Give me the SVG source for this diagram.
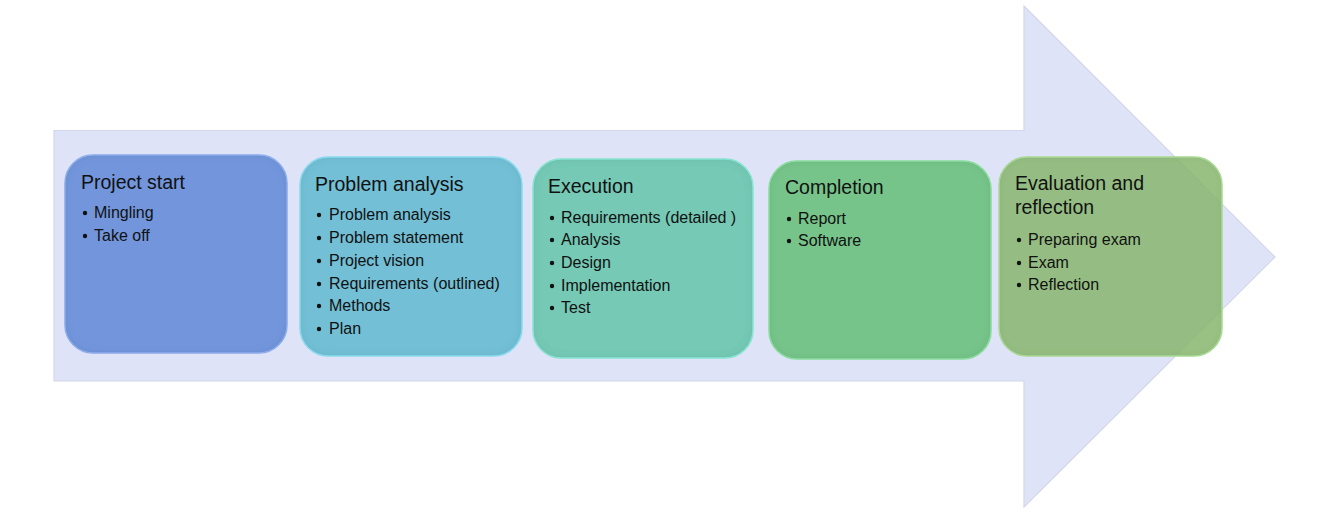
<svg xmlns="http://www.w3.org/2000/svg" width="1323" height="516" viewBox="0 0 1323 516">
<defs>
<filter id="bevel" x="-5%" y="-5%" width="110%" height="110%">
<feGaussianBlur in="SourceAlpha" stdDeviation="4" result="b"/>
<feComposite in="SourceAlpha" in2="b" operator="out" result="edge"/>
<feFlood flood-color="#000" flood-opacity="0.18"/>
<feComposite in2="edge" operator="in" result="shadow"/>
<feMerge><feMergeNode in="SourceGraphic"/><feMergeNode in="shadow"/></feMerge>
</filter>
<style>
.box{stroke-width:1.5;filter:url(#bevel)}
.title{font-family:"Liberation Sans",Arial,sans-serif;font-size:19.5px;fill:#111}
.item{font-family:"Liberation Sans",Arial,sans-serif;font-size:16px;fill:#111}
.dot{fill:#111}
</style>
</defs>
<rect width="1323" height="516" fill="#ffffff"/>
<g id="arrow">
<path d="M54,130.5 H1024 V6 L1275,257 L1024,507 V381 H54 Z" fill="#dfe3f7" stroke="#d3d7ea" stroke-width="1.2"/>
</g>
<g id="connectors"></g>
<g id="node-project-start">
<rect class="box" x="65" y="155" width="222" height="198" rx="28" fill="#7295dc" stroke="#93b3f4"/>
<text class="title" x="81" y="189">Project start</text>
<circle class="dot" cx="85" cy="213" r="2.2"/><text class="item" x="94" y="218">Mingling</text>
<circle class="dot" cx="85" cy="236" r="2.2"/><text class="item" x="94" y="241">Take off</text>
</g>
<g id="node-problem-analysis">
<rect class="box" x="300" y="157" width="222" height="199" rx="28" fill="#72bfd6" stroke="#8ee3f6"/>
<text class="title" x="315" y="191">Problem analysis</text>
<circle class="dot" cx="319" cy="215" r="2.2"/><text class="item" x="329" y="220">Problem analysis</text>
<circle class="dot" cx="319" cy="238" r="2.2"/><text class="item" x="329" y="243">Problem statement</text>
<circle class="dot" cx="319" cy="261" r="2.2"/><text class="item" x="329" y="266">Project vision</text>
<circle class="dot" cx="319" cy="284" r="2.2"/><text class="item" x="329" y="289">Requirements (outlined)</text>
<circle class="dot" cx="319" cy="306" r="2.2"/><text class="item" x="329" y="311">Methods</text>
<circle class="dot" cx="319" cy="329" r="2.2"/><text class="item" x="329" y="334">Plan</text>
</g>
<g id="node-execution">
<rect class="box" x="533" y="159" width="220" height="199" rx="28" fill="#74c9b5" stroke="#8ceed9"/>
<text class="title" x="548" y="193">Execution</text>
<circle class="dot" cx="552" cy="218" r="2.2"/><text class="item" x="561" y="223">Requirements (detailed )</text>
<circle class="dot" cx="552" cy="240" r="2.2"/><text class="item" x="561" y="245">Analysis</text>
<circle class="dot" cx="552" cy="263" r="2.2"/><text class="item" x="561" y="268">Design</text>
<circle class="dot" cx="552" cy="286" r="2.2"/><text class="item" x="561" y="291">Implementation</text>
<circle class="dot" cx="552" cy="308" r="2.2"/><text class="item" x="561" y="313">Test</text>
</g>
<g id="node-completion">
<rect class="box" x="769" y="161" width="222" height="198" rx="28" fill="#76c48a" stroke="#8ee6a3"/>
<text class="title" x="785" y="194">Completion</text>
<circle class="dot" cx="789" cy="219" r="2.2"/><text class="item" x="798" y="224">Report</text>
<circle class="dot" cx="789" cy="241" r="2.2"/><text class="item" x="798" y="246">Software</text>
</g>
<g id="node-evaluation">
<rect class="box" x="999" y="157" width="223" height="199" rx="28" fill="#89b870" fill-opacity="0.85" stroke="#b0e39b"/>
<text class="title" x="1015" y="190">Evaluation and</text>
<text class="title" x="1015" y="214">reflection</text>
<circle class="dot" cx="1019" cy="240" r="2.2"/><text class="item" x="1028" y="245">Preparing exam</text>
<circle class="dot" cx="1019" cy="263" r="2.2"/><text class="item" x="1028" y="268">Exam</text>
<circle class="dot" cx="1019" cy="285" r="2.2"/><text class="item" x="1028" y="290">Reflection</text>
</g>
</svg>
